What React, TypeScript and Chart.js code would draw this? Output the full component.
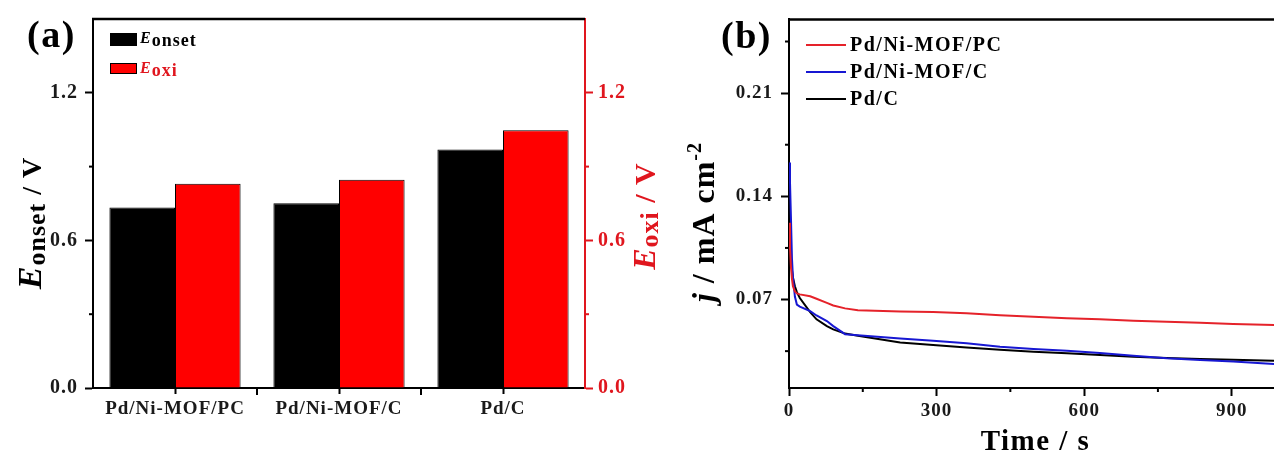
import React, { useEffect, useRef } from 'react';
import { Chart, registerables } from 'chart.js';

Chart.register(...registerables);

// ---------- Panel (a) data ----------
const catalysts = ['Pd/Ni-MOF/PC', 'Pd/Ni-MOF/C', 'Pd/C'];
const eOnset = [0.734, 0.751, 0.97];
const eOxi = [0.83, 0.847, 1.048];
const barSubscripts = ['onset', 'oxi'];
const potentialMajorTicks = [0, 0.6, 1.2];
const potentialMinorTicks = [0.3, 0.9];

// ---------- Panel (b) data ----------
const timeS = [0, 2, 4, 6, 8, 12, 16, 22, 43, 56, 77, 90, 114, 140, 226, 293, 361, 429, 497, 565, 632, 700, 768, 836, 903, 986];
const jPdNiMofPc = [0.122, 0.105, 0.092, 0.084, 0.079, 0.0755, 0.0742, 0.0735, 0.0722, 0.0705, 0.0677, 0.066, 0.064, 0.0627, 0.0619, 0.0615, 0.0607, 0.0594, 0.0583, 0.0573, 0.0566, 0.0556, 0.0549, 0.0543, 0.0534, 0.0527];
const jPdNiMofC = [0.163, 0.15, 0.125, 0.098, 0.085, 0.072, 0.0666, 0.0652, 0.0621, 0.0592, 0.0554, 0.052, 0.0465, 0.0457, 0.0436, 0.042, 0.0404, 0.038, 0.0364, 0.0353, 0.0337, 0.0319, 0.0301, 0.029, 0.0279, 0.0263];
const jPdC = [0.125, 0.108, 0.097, 0.09, 0.085, 0.079, 0.075, 0.071, 0.0615, 0.0566, 0.052, 0.0498, 0.0469, 0.0455, 0.0408, 0.0391, 0.0375, 0.0359, 0.0346, 0.0335, 0.0324, 0.0312, 0.0304, 0.0297, 0.0292, 0.0285];
const lineLabels = ['Pd/Ni-MOF/PC', 'Pd/Ni-MOF/C', 'Pd/C'];
const timeMajorTicks = [0, 300, 600, 900];
const timeMinorTicks = [150, 450, 750];
const jMajorTicks = [0.07, 0.14, 0.21];
const jMinorTicks = [0.035, 0.105, 0.175, 0.245];

// ---------- styles ----------
const SERIF = '"Liberation Serif", "Times New Roman", serif';
const RED_BAR = '#ff0000';
const RED_AXIS = '#e0161e';
const LINE_COLORS = ['#e5222a', '#1717d2', '#000000'];

type Run = { text: string; size: number; italic?: boolean; dy?: number; color?: string };

const fontOf = (r: Run) => `${r.italic ? 'italic ' : ''}bold ${r.size}px ${SERIF}`;

function drawRuns(ctx: any, runs: Run[], x: number, y: number, align: 'left' | 'center', rotate: boolean, spacing = 1) {
  ctx.save();
  ctx.translate(x, y);
  if (rotate) ctx.rotate(-Math.PI / 2);
  ctx.letterSpacing = spacing + 'px';
  ctx.textBaseline = 'alphabetic';
  ctx.textAlign = 'left';
  let total = 0;
  const widths = runs.map((r) => {
    ctx.font = fontOf(r);
    const w = ctx.measureText(r.text).width;
    total += w;
    return w;
  });
  let cx = align === 'center' ? -total / 2 : 0;
  runs.forEach((r, i) => {
    ctx.font = fontOf(r);
    ctx.fillStyle = r.color || '#000';
    ctx.fillText(r.text, cx, r.dy || 0);
    cx += widths[i];
  });
  ctx.restore();
}

function seg(ctx: any, x1: number, y1: number, x2: number, y2: number) {
  ctx.beginPath();
  ctx.moveTo(x1, y1);
  ctx.lineTo(x2, y2);
  ctx.stroke();
}

function minorTicks(ctx: any, scale: any, values: number[], side: 'left' | 'right' | 'bottom', len: number, color: string) {
  ctx.save();
  ctx.strokeStyle = color;
  ctx.lineWidth = 2;
  values.forEach((v) => {
    const p = scale.getPixelForValue(v);
    if (side === 'left') seg(ctx, scale.right - len, p, scale.right, p);
    else if (side === 'right') seg(ctx, scale.left, p, scale.left + len, p);
    else seg(ctx, p, scale.top, p, scale.top + len);
  });
  ctx.restore();
}

const spacingPlugin = {
  id: 'spacing',
  beforeDraw(chart: any) {
    chart.ctx.letterSpacing = '1px';
  },
};

const decorA = {
  id: 'decorA',
  afterDraw(chart: any) {
    const { ctx, chartArea: a, scales } = chart;
    ctx.save();
    ctx.strokeStyle = '#000';
    ctx.lineWidth = 2.5;
    seg(ctx, a.left - 1, a.top, a.right, a.top);
    minorTicks(ctx, scales.y, potentialMinorTicks, 'left', 4, '#000');
    minorTicks(ctx, scales.y2, potentialMinorTicks, 'right', 4, RED_AXIS);
    const xs = scales.x;
    ctx.strokeStyle = '#000';
    ctx.lineWidth = 2;
    for (let i = 0; i < catalysts.length - 1; i++) {
      const px = (xs.getPixelForValue(i) + xs.getPixelForValue(i + 1)) / 2;
      seg(ctx, px, a.bottom, px, a.bottom + 7);
    }
    // legend
    const legendColors = ['#000', RED_BAR];
    const legendText = ['#000', RED_AXIS];
    const rows = [{ top: 33, h: 13 }, { top: 63, h: 11 }];
    barSubscripts.forEach((sub, i) => {
      ctx.fillStyle = legendColors[i];
      ctx.fillRect(a.left + 17, rows[i].top, 27, rows[i].h);
      ctx.strokeStyle = '#000';
      ctx.lineWidth = 1;
      ctx.strokeRect(a.left + 17.5, rows[i].top + 0.5, 26, rows[i].h - 1);
      const base = rows[i].top + 10;
      drawRuns(ctx, [
        { text: 'E', size: 16, italic: true, color: legendText[i] },
        { text: sub, size: 18, dy: 3, color: legendText[i] },
      ], a.left + 47, base, 'left', false, 1);
    });
    // panel label
    drawRuns(ctx, [{ text: '(a)', size: 38 }], 27, 47, 'left', false, 1.5);
    // axis titles
    drawRuns(ctx, [
      { text: 'E', size: 34, italic: true },
      { text: barSubscripts[0], size: 26, dy: 4 },
      { text: ' / V', size: 28 },
    ], 41, 223, 'center', true, 1);
    drawRuns(ctx, [
      { text: 'E', size: 32, italic: true, color: RED_AXIS },
      { text: barSubscripts[1], size: 26, dy: 3, color: RED_AXIS },
      { text: ' / V', size: 30, color: RED_AXIS },
    ], 655, 216, 'center', true, 1);
    ctx.restore();
  },
};

const decorB = {
  id: 'decorB',
  afterDraw(chart: any) {
    const { ctx, chartArea: a, scales } = chart;
    ctx.save();
    ctx.strokeStyle = '#000';
    ctx.lineWidth = 2.5;
    seg(ctx, a.left - 1, a.top, a.right, a.top);
    minorTicks(ctx, scales.y, jMinorTicks, 'left', 4, '#000');
    minorTicks(ctx, scales.x, timeMinorTicks, 'bottom', 4, '#000');
    // legend
    chart.data.datasets.forEach((ds: any, i: number) => {
      const y = 45 + i * 27;
      ctx.strokeStyle = ds.borderColor;
      ctx.lineWidth = 2;
      seg(ctx, a.left + 17, y, a.left + 57, y);
      drawRuns(ctx, [{ text: ds.label, size: 20 }], a.left + 61, y + 6, 'left', false, 1.5);
    });
    drawRuns(ctx, [{ text: '(b)', size: 38 }], 41, 48, 'left', false, 1.5);
    drawRuns(ctx, [
      { text: 'j', size: 32, italic: true },
      { text: ' / mA cm', size: 32 },
      { text: '-2', size: 20, dy: -13 },
    ], 34, 222, 'center', true, 1);
    drawRuns(ctx, [{ text: 'Time / s', size: 29 }], (a.left + a.right) / 2 + 4, 450, 'center', false, 1.5);
    ctx.restore();
  },
};

const tickFont = (size: number) => ({ family: SERIF, size, weight: 'bold' as const });

export default function App() {
  const refA = useRef<HTMLCanvasElement>(null);
  const refB = useRef<HTMLCanvasElement>(null);

  useEffect(() => {
    const chartA = new Chart(refA.current as HTMLCanvasElement, {
      type: 'bar',
      data: {
        labels: catalysts,
        datasets: [
          {
            label: 'E' + barSubscripts[0],
            data: eOnset,
            backgroundColor: '#000',
            borderColor: '#000',
            borderWidth: 1,
            yAxisID: 'y',
            categoryPercentage: 0.8,
            barPercentage: 1,
          },
          {
            label: 'E' + barSubscripts[1],
            data: eOxi,
            backgroundColor: RED_BAR,
            borderColor: '#000',
            borderWidth: 1,
            yAxisID: 'y2',
            categoryPercentage: 0.8,
            barPercentage: 1,
          },
        ],
      },
      options: {
        animation: false,
        responsive: false,
        devicePixelRatio: 1,
        layout: { padding: { top: 15, left: 0, right: 0, bottom: 0 } },
        plugins: { legend: { display: false }, tooltip: { enabled: false } },
        scales: {
          x: {
            grid: { display: true, drawOnChartArea: false, drawTicks: true, tickLength: 6, tickWidth: 2, tickColor: '#000', offset: false },
            border: { display: true, color: '#000', width: 2 },
            ticks: { color: '#1a1a1a', font: tickFont(19), padding: 4, maxRotation: 0, autoSkip: false },
            afterFit: (s: any) => { s.height = 67; },
          },
          y: {
            position: 'left',
            min: 0,
            max: 1.5,
            afterBuildTicks: (s: any) => { s.ticks = potentialMajorTicks.map((v) => ({ value: v })); },
            ticks: { color: '#1a1a1a', font: tickFont(20), padding: 7, callback: (v: any) => Number(v).toFixed(1) },
            grid: { drawOnChartArea: false, drawTicks: true, tickLength: 8, tickWidth: 2, tickColor: '#000' },
            border: { display: true, color: '#000', width: 2 },
            afterFit: (s: any) => { s.width = 93; },
          },
          y2: {
            position: 'right',
            min: 0,
            max: 1.5,
            afterBuildTicks: (s: any) => { s.ticks = potentialMajorTicks.map((v) => ({ value: v })); },
            ticks: { color: RED_AXIS, font: tickFont(20), padding: 5, callback: (v: any) => Number(v).toFixed(1) },
            grid: { drawOnChartArea: false, drawTicks: true, tickLength: 8, tickWidth: 2, tickColor: RED_AXIS },
            border: { display: true, color: RED_AXIS, width: 2 },
            afterFit: (s: any) => { s.width = 95; },
          },
        },
      },
      plugins: [spacingPlugin, decorA],
    } as any);

    const series = [jPdNiMofPc, jPdNiMofC, jPdC];
    const chartB = new Chart(refB.current as HTMLCanvasElement, {
      type: 'line',
      data: {
        datasets: series.map((vals, i) => ({
          label: lineLabels[i],
          data: timeS.map((t, k) => ({ x: t, y: vals[k] })),
          borderColor: LINE_COLORS[i],
          backgroundColor: LINE_COLORS[i],
          borderWidth: 2,
          pointRadius: 0,
          tension: 0,
          fill: false,
        })),
      },
      options: {
        animation: false,
        responsive: false,
        devicePixelRatio: 1,
        layout: { padding: { top: 16, left: 0, right: 0, bottom: 0 } },
        plugins: { legend: { display: false }, tooltip: { enabled: false } },
        scales: {
          x: {
            type: 'linear',
            min: 0,
            max: 986,
            afterBuildTicks: (s: any) => { s.ticks = timeMajorTicks.map((v) => ({ value: v })); },
            ticks: { color: '#1a1a1a', font: tickFont(19), padding: 4, maxRotation: 0, callback: (v: any) => String(v) },
            grid: { drawOnChartArea: false, drawTicks: true, tickLength: 8, tickWidth: 2, tickColor: '#000' },
            border: { display: true, color: '#000', width: 2 },
            afterFit: (s: any) => { s.height = 67; },
          },
          y: {
            type: 'linear',
            min: 0.01,
            max: 0.26,
            afterBuildTicks: (s: any) => { s.ticks = jMajorTicks.map((v) => ({ value: v })); },
            ticks: { color: '#1a1a1a', font: tickFont(19), padding: 8, callback: (v: any) => Number(v).toFixed(2) },
            grid: { drawOnChartArea: false, drawTicks: true, tickLength: 8, tickWidth: 2, tickColor: '#000' },
            border: { display: true, color: '#000', width: 2 },
            afterFit: (s: any) => { s.width = 109; },
          },
        },
      },
      plugins: [spacingPlugin, decorB],
    } as any);

    return () => {
      chartA.destroy();
      chartB.destroy();
    };
  }, []);

  return (
    <div style={{ position: 'fixed', left: 0, top: 0, width: 1274, height: 455, background: '#fff', overflow: 'hidden' }}>
      <canvas ref={refA} width={680} height={455} style={{ position: 'absolute', left: 0, top: 0, width: 680, height: 455 }} />
      <canvas ref={refB} width={594} height={455} style={{ position: 'absolute', left: 680, top: 0, width: 594, height: 455 }} />
    </div>
  );
}
